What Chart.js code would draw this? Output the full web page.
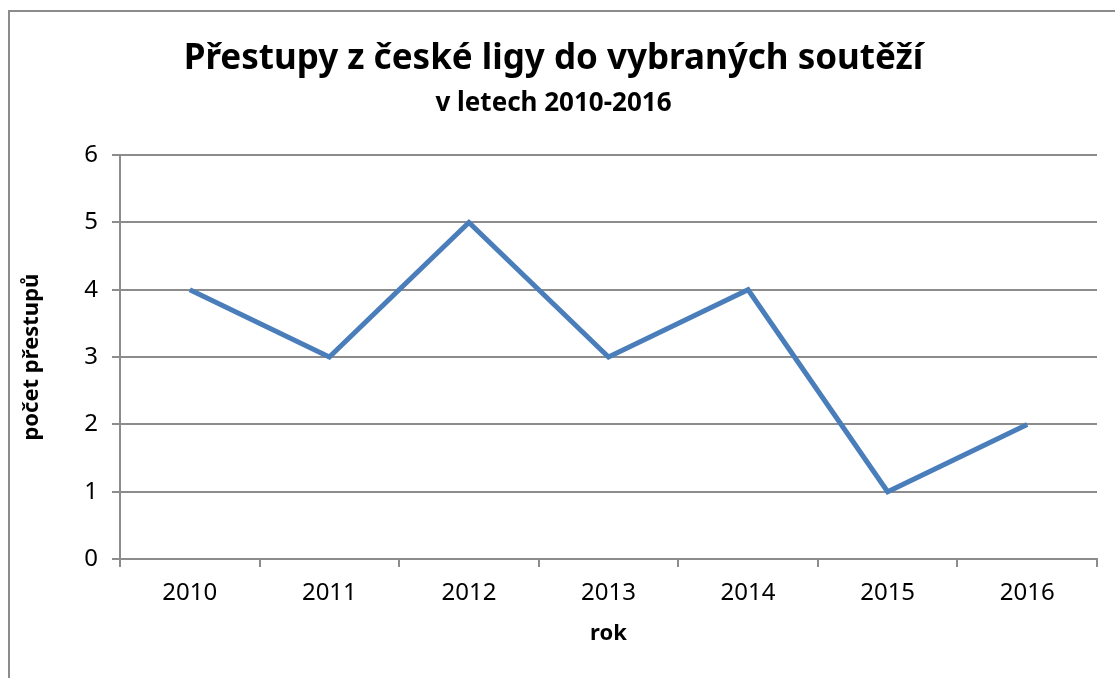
<!DOCTYPE html>
<html lang="cs">
<head>
  <meta charset="UTF-8" />
  <script src="https://cdn.jsdelivr.net/npm/chart.js"></script>
  <title>Přestupy</title>
  <style>
    html, body { margin: 0; padding: 0; background: #fff; overflow: hidden; }
    #box {
      position: absolute; left: 8px; top: 10px;
      width: 1118px; height: 666px;
      border-left: 2px solid #8c8c8c; border-top: 2px solid #8c8c8c;
    }
  </style>
</head>
<body>
  <div id="box"><canvas id="chart" width="1118" height="666"></canvas></div>

  <script>
    const years = ['2010', '2011', '2012', '2013', '2014', '2015', '2016'];
    const transfers = [4, 3, 5, 3, 4, 1, 2];
    const yTicks = [0, 1, 2, 3, 4, 5, 6];

    const font = "'Noto Sans', sans-serif";
    const gridColor = '#8c8c8c';

    new Chart(document.getElementById('chart'), {
      type: 'line',
      data: {
        labels: years,
        datasets: [{
          label: 'počet přestupů',
          data: transfers,
          borderColor: '#4a7ebb',
          borderWidth: 5,
          pointRadius: 0,
          tension: 0,
          fill: false
        }]
      },
      options: {
        responsive: false,
        animation: false,
        layout: { padding: { left: 0, right: 31, top: 0, bottom: 0 } },
        plugins: {
          legend: { display: false },
          tooltip: { enabled: false },
          title: {
            display: true,
            text: 'Přestupy z české ligy do vybraných soutěží',
            color: '#000',
            font: { family: font, size: 35, weight: 'bold' },
            padding: { top: 26, bottom: 8 }
          },
          subtitle: {
            display: true,
            text: 'v letech 2010-2016',
            color: '#000',
            font: { family: font, size: 26, weight: 'bold' },
            padding: { top: 0, bottom: 36 }
          }
        },
        scales: {
          x: {
            offset: true,
            grid: { offset: true, drawOnChartArea: false, drawTicks: true, tickLength: 8, color: gridColor, lineWidth: 2 },
            border: { color: gridColor, width: 2 },
            ticks: { color: '#000', font: { family: font, size: 24 }, padding: 12, maxRotation: 0 },
            title: { display: true, text: 'rok', color: '#000', font: { family: font, size: 22, weight: 'bold' }, padding: { top: 6, bottom: 31 } },
            afterFit: s => { s.height = 119; }
          },
          y: {
            min: 0, max: 6,
            afterBuildTicks: s => { s.ticks = yTicks.map(v => ({ value: v })); },
            grid: { color: gridColor, lineWidth: 2, tickLength: 8 },
            border: { color: gridColor, width: 2 },
            ticks: { color: '#000', font: { family: font, size: 24 }, padding: 14 },
            title: { display: true, text: 'počet přestupů', color: '#000', font: { family: font, size: 22, weight: 'bold' }, padding: { top: 9, bottom: 10 } },
            afterFit: s => { s.width = 110; }
          }
        }
      }
    });
  </script>
</body>
</html>
